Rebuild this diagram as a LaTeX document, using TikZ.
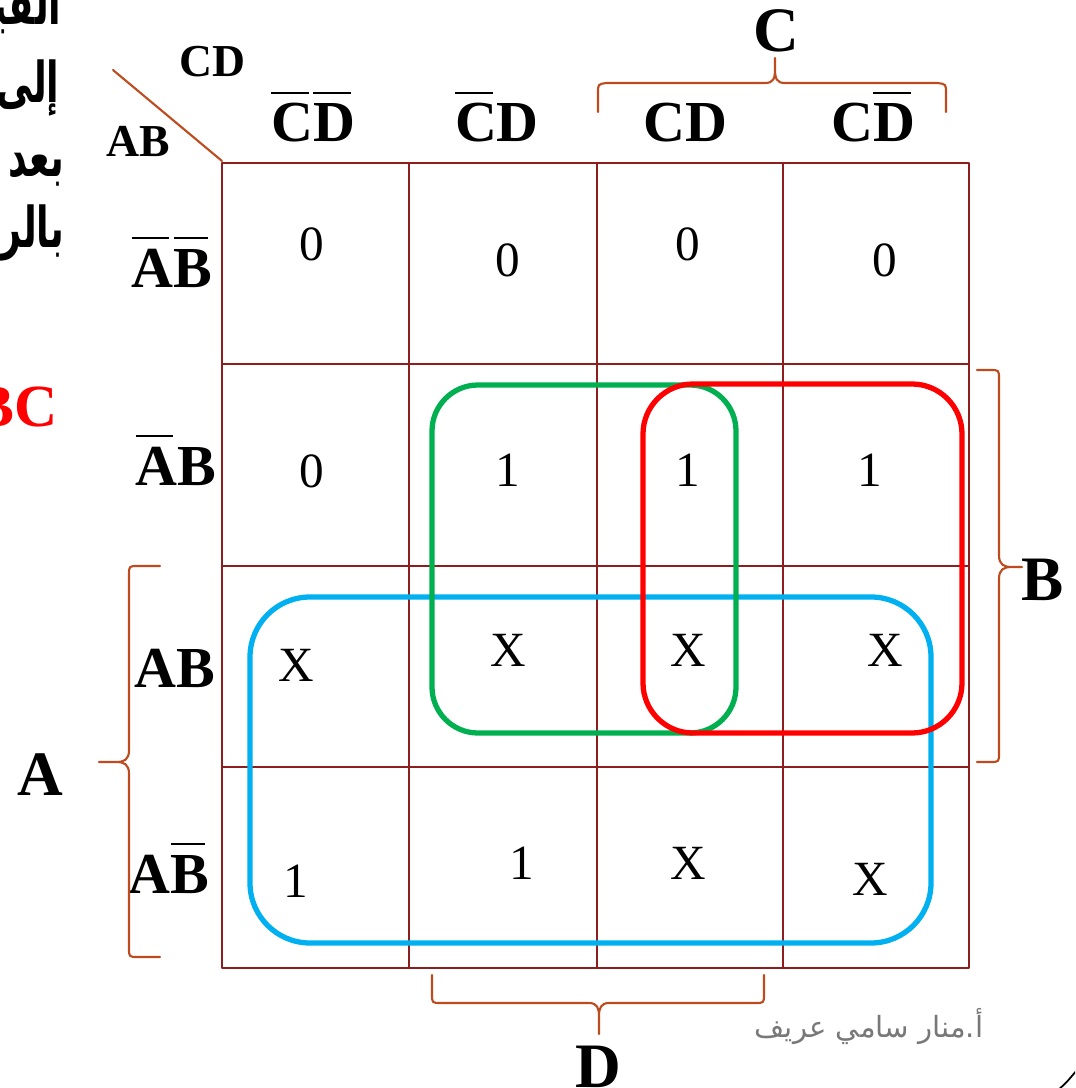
\documentclass[tikz,border=0pt]{standalone}
\usepackage{graphicx}
\usepackage{fontspec}
\setmainfont{Liberation Serif}
\newfontfamily\arabicfont[Script=Arabic]{DejaVu Sans}
\TeXXeTstate=1

\definecolor{kmaroon}{RGB}{140,30,30}
\definecolor{kbrace}{RGB}{190,75,30}
\definecolor{kgreen}{RGB}{0,176,80}
\definecolor{kblue}{RGB}{0,176,240}
\definecolor{sgray}{RGB}{120,120,120}
\newcommand{\nt}[1]{{$\overline{\mbox{#1\rule{0pt}{0.76em}}\kern-1.2pt}$\kern1.2pt}}
\newcommand{\arw}[1]{\scalebox{0.65}[1]{\beginR #1\endR}}

\begin{document}
\begin{tikzpicture}[x=0.01cm, y=-0.01cm, line cap=round, line join=round,
    kgrid/.style={kmaroon, line width=0.7pt},
    brc/.style={kbrace, line width=0.6pt},
    grp/.style={line width=1.5pt},
    val/.style={anchor=base, inner sep=0pt, font=\fontsize{14}{16}\selectfont},
    lbl/.style={anchor=base, inner sep=0pt, font=\bfseries\fontsize{16.5}{19}\selectfont},
    big/.style={anchor=base, inner sep=0pt, font=\bfseries\fontsize{18}{21}\selectfont},
    arb/.style={anchor=base east, inner sep=0pt, font=\arabicfont\bfseries\fontsize{16}{19}\selectfont}]

\useasboundingbox (0,0) rectangle (1075,1088);
\clip (0,0) rectangle (1075,1088);

% Text cut off at the left edge
\node[arb] (w1) at (62,25)  {\arw{القيـ}};
\node[arb] (w2) at (60,103) {\arw{إلى}};
\node[arb] (w3) at (65,177) {\arw{بعد}};
\node[arb] (w4) at (65,248) {\arw{بالر}};
\node[anchor=base east, inner sep=0pt, text=red,
      font=\bfseries\fontsize{17}{20}\selectfont] (bc) at (58,426) {BC};

% Map grid
\draw[kgrid] (222,163) rectangle (969,968);
\draw[kgrid] (409,163) -- (409,968) (597,163) -- (597,968) (783,163) -- (783,968);
\draw[kgrid] (222,364) -- (969,364) (222,566) -- (969,566) (222,767) -- (969,767);

% Corner
\draw[kbrace, line width=0.6pt] (113,70) -- (222,161);
\node[anchor=base, inner sep=0pt, font=\bfseries\fontsize{13}{15}\selectfont] (cd) at (213,77) {CD};
\node[anchor=base, inner sep=0pt, font=\bfseries\fontsize{13}{15}\selectfont] (ab) at (138,157) {AB};

% Column labels
\node[lbl] (col1) at (313,142) {\nt{C}\nt{D}};
\node[lbl] (col2) at (497,142) {\nt{C}D};
\node[lbl] (col3) at (685,142) {CD};
\node[lbl] (col4) at (873,142) {C\nt{D}};

% Row labels
\node[lbl] (row1) at (172,287) {\nt{A}\nt{B}};
\node[lbl] (row2) at (176,485) {\nt{A}B};
\node[lbl] (row3) at (175,687) {AB};
\node[lbl] (row4) at (169,893) {A\nt{B}};

% Groups
\draw[grp, kblue, rounded corners=0.6cm] (250,597) rectangle (931,943);
\draw[grp, kgreen, rounded corners=0.46cm] (432,385) rectangle (736,733);
\draw[grp, red, rounded corners=0.5cm] (643,384) rectangle (962,733);

% Cell values
\node[val] (v11) at (312,261) {0};
\node[val] (v12) at (508,276) {0};
\node[val] (v13) at (688,261) {0};
\node[val] (v14) at (885,276) {0};
\node[val] (v21) at (312,487) {0};
\node[val] (v22) at (508,486) {1};
\node[val] (v23) at (688,486) {1};
\node[val] (v24) at (870,486) {1};
\node[val] (v31) at (296,681) {X};
\node[val] (v32) at (508,666) {X};
\node[val] (v33) at (688,666) {X};
\node[val] (v34) at (885,666) {X};
\node[val] (v41) at (296,897) {1};
\node[val] (v42) at (522,879) {1};
\node[val] (v43) at (688,879) {X};
\node[val] (v44) at (870,895) {X};

% Braces
\draw[brc] (598,112) -- (598,93) .. controls (598,84) .. (607,83) -- (765,83)
    .. controls (774,83) and (775,78) .. (775,68) -- (775,58) -- (775,68)
    .. controls (775,78) and (776,83) .. (785,83) -- (937,83)
    .. controls (946,84) .. (946,93) -- (946,112);
\draw[brc] (977,370) -- (990,370) .. controls (999,370) .. (999,379) -- (999,555)
    .. controls (999,565) and (1004,567) .. (1012,567) -- (1022,567) -- (1012,567)
    .. controls (1004,567) and (999,569) .. (999,579) -- (999,753)
    .. controls (999,762) .. (990,762) -- (977,762);
\draw[brc] (160,566) -- (138,566) .. controls (129,566) .. (129,575) -- (129,750)
    .. controls (129,760) and (124,762) .. (116,762) -- (99,762) -- (116,762)
    .. controls (124,762) and (129,764) .. (129,774) -- (129,948)
    .. controls (129,957) .. (138,957) -- (160,957);
\draw[brc] (432,975) -- (432,994) .. controls (432,1003) .. (441,1003) -- (589,1003)
    .. controls (597,1003) and (599,1008) .. (599,1016) -- (599,1034) -- (599,1016)
    .. controls (599,1008) and (601,1003) .. (609,1003) -- (755,1003)
    .. controls (764,1003) .. (764,994) -- (764,975);

% Variable letters
\node[big] (lA) at (40,795) {A};
\node[big] (lB) at (1043,600) {B};
\node[big] (lC) at (776,52) {C};
\node[big] (lD) at (598,1087) {D};

% Signature
\node[anchor=base east, inner sep=0pt, text=sgray,
      font=\arabicfont\fontsize{8.3}{10}\selectfont] (sig) at (984,1037) {\beginR أ.منار سامي عريف\endR};
\draw[line width=0.5pt] (1058,1090) .. controls (1066,1083) .. (1077,1070);

\end{tikzpicture}
\end{document}
